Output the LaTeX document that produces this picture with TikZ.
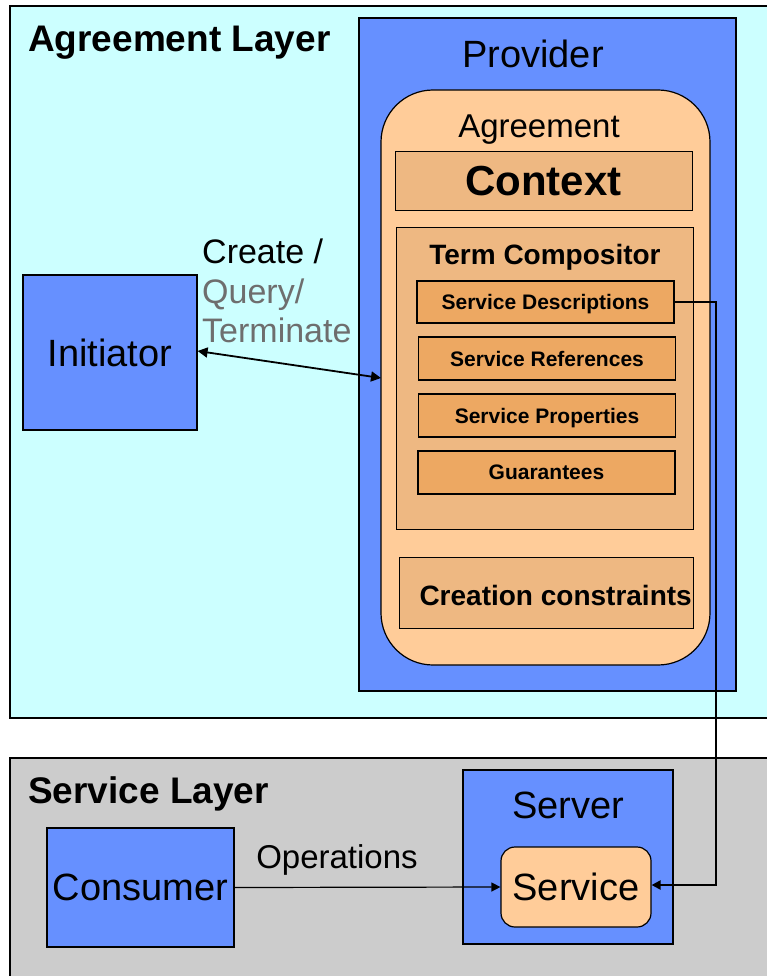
\documentclass[tikz,border=0pt]{standalone}
\usepackage{fontspec}
\setmainfont{Liberation Sans}
\usetikzlibrary{arrows.meta}
\definecolor{layercyan}{HTML}{CCFFFF}
\definecolor{layergray}{HTML}{CCCCCC}
\definecolor{boxblue}{HTML}{6690FF}
\definecolor{peach}{HTML}{FFCC99}
\definecolor{tan}{HTML}{EEB882}
\definecolor{termorange}{HTML}{EDA862}
\definecolor{dimtext}{HTML}{6E6E6E}
\tikzset{
  frame/.style={draw=black, line width=1.2pt},
  actor/.style={frame, fill=boxblue},
  part/.style={draw=black, line width=1pt, fill=tan},
  termbox/.style={draw=black, line width=1.2pt, fill=termorange, minimum width=257pt, minimum height=43pt, inner sep=0pt, text depth=0pt, font=\fontsize{21}{24}\selectfont\bfseries},
  link/.style={line width=1.6pt, -{Triangle[length=9pt,width=9pt]}},
}
\begin{document}
\begin{tikzpicture}[x=1pt,y=-1pt]
\useasboundingbox (0,0) rectangle (767,976);
% layers
\draw[frame, fill=layercyan] (10,6) rectangle (790,718);
\draw[frame, fill=layergray] (10,758) rectangle (790,1000);
\node[anchor=west, inner sep=0pt, font=\fontsize{37}{40}\selectfont\bfseries] (aglabel) at (28,43) {Agreement Layer};
\node[anchor=west, inner sep=0pt, font=\fontsize{37}{40}\selectfont\bfseries] (svlabel) at (28,794) {Service Layer};
% provider
\draw[actor] (359,18) rectangle (736,691);
\node[font=\fontsize{38}{40}\selectfont] (provider) at (533,54) {Provider};
\draw[frame, fill=peach, rounded corners=52pt] (381,90) rectangle (710,665);
\node[font=\fontsize{33}{36}\selectfont] (agreement) at (539,130) {Agreement};
\node[part, minimum width=297pt, minimum height=59pt, inner sep=0pt, font=\fontsize{42}{46}\selectfont\bfseries] (context) at (543.5,181.5) {Context};
\draw[part] (396,228) rectangle (693,529);
\node[font=\fontsize{28}{32}\selectfont\bfseries] (termcomp) at (545,257) {Term Compositor};
\node[termbox, minimum width=257pt, minimum height=42pt] (sdesc) at (545.5,302) {Service Descriptions};
\node[termbox] (sref) at (547,358.5) {Service References};
\node[termbox] (sprop) at (547,415.5) {Service Properties};
\node[termbox] (guar) at (546.5,472.5) {Guarantees};
\node[part, minimum width=294pt, minimum height=71pt, inner sep=0pt] (cconst) at (546,592.5) {};
\node[anchor=east, inner sep=0pt, font=\fontsize{28}{32}\selectfont\bfseries] (cctext) at (692,595) {Creation constraints};
% initiator
\node[actor, minimum width=174pt, minimum height=155pt, inner sep=0pt, font=\fontsize{38}{40}\selectfont] (initiator) at (110,352.5) {Initiator};
\node[anchor=west, align=left, inner sep=0pt, font=\fontsize{34}{39.5}\selectfont] (ops) at (202,291) {Create /\\\textcolor{dimtext}{Query/}\\\textcolor{dimtext}{Terminate}};
\coordinate (agleft) at (381,378);
\draw[line width=1.8pt, {Triangle[length=10pt,width=10pt]}-{Triangle[length=10pt,width=10pt]}] (initiator.east |- 0,351) -- (agleft);
% service layer
\node[actor, minimum width=187pt, minimum height=119pt, inner sep=0pt, font=\fontsize{38}{40}\selectfont] (consumer) at (140.5,887.5) {Consumer};
\draw[actor] (463,770) rectangle (673,944);
\node[font=\fontsize{38}{40}\selectfont] (server) at (568,805) {Server};
\node[draw=black, line width=1.2pt, fill=peach, rounded corners=14pt, minimum width=150pt, minimum height=80pt, inner sep=0pt, font=\fontsize{38}{40}\selectfont] (service) at (576,887) {Service};
\draw[link, line width=1.2pt] (consumer.east) -- (service.west);
\node[font=\fontsize{33}{36}\selectfont] (opslabel) at (337,860) {Operations};
\coordinate (bend1) at (716,302);
\coordinate (bend2) at (716,885);
\draw[link, line width=2.2pt] (sdesc.east) -- (bend1) -- (bend2) -- (service.east |- bend2);
\end{tikzpicture}
\end{document}
